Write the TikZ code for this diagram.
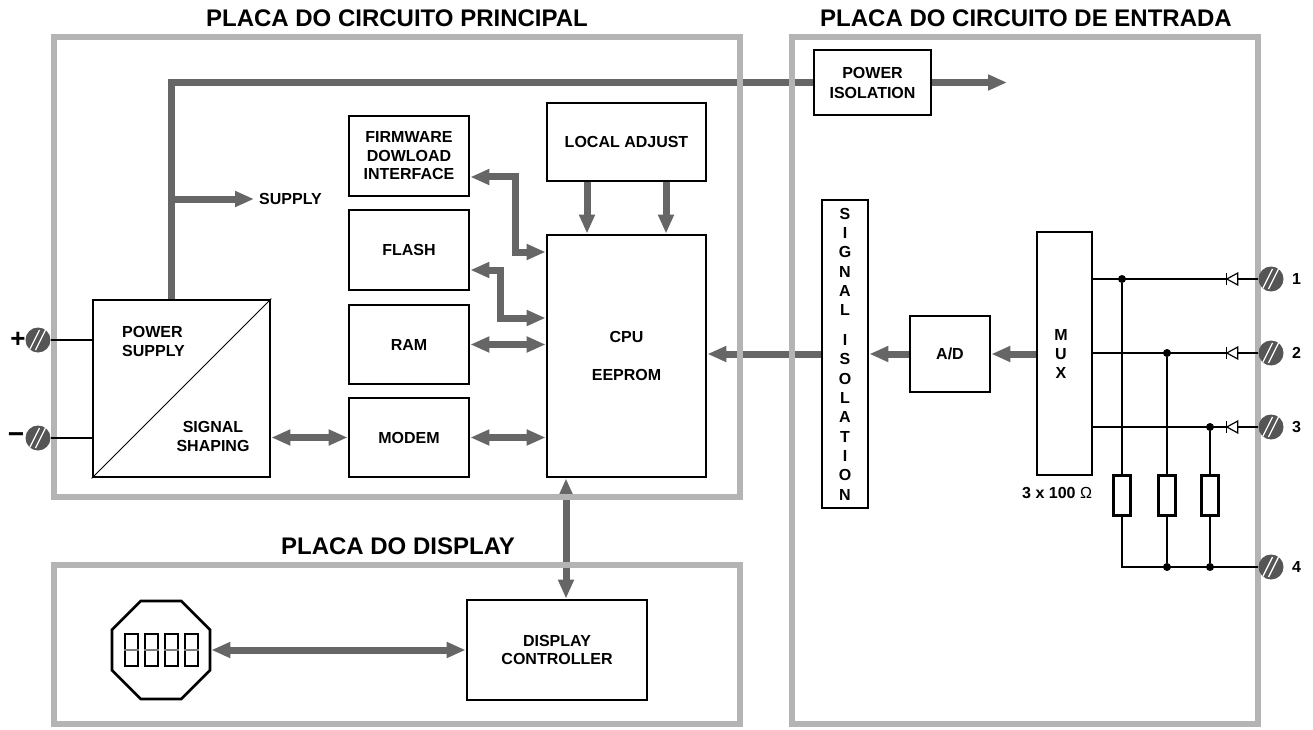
\documentclass[tikz,border=0pt]{standalone}
\usepackage{fontspec}
\setmainfont{Liberation Sans}
\usetikzlibrary{arrows.meta,shapes.geometric,calc}
\definecolor{busgray}{RGB}{102,102,102}
\definecolor{panelgray}{RGB}{180,180,180}
\definecolor{termgray}{RGB}{85,85,85}
\pgfdeclarelayer{bg}
\pgfsetlayers{bg,main}
\begin{document}
\begin{tikzpicture}[x=1pt,y=-1pt,
  every node/.style={font=\fontsize{16}{19}\selectfont\bfseries},
  box/.style={draw=black, line width=2.8pt, fill=white, inner sep=0pt, align=center},
  panel/.style={draw=panelgray, line width=6.5pt, inner sep=0pt},
  bus/.style={draw=busgray, line width=7pt},
  busarrow/.style={bus, -{Triangle[length=19pt,width=15pt]}},
  dbl/.style={bus, {Triangle[length=19pt,width=15pt]}-{Triangle[length=19pt,width=15pt]}},
  wire/.style={draw=black, line width=1.2pt},
  jdot/.style={circle, fill=black, inner sep=0pt, minimum size=8pt},
  res/.style={draw=black, line width=3pt, fill=white, inner sep=0pt, minimum width=17pt, minimum height=40pt},
  title/.style={font=\fontsize{24}{28}\selectfont\bfseries},
  term/.style={circle, fill=termgray, inner sep=0pt, minimum size=25pt,
    path picture={
      \draw[white, line width=1.3pt] ([shift={(-8.5pt,-10pt)}]path picture bounding box.center) -- ++(10pt,20pt);
      \draw[white, line width=1.3pt] ([shift={(-2.5pt,-10pt)}]path picture bounding box.center) -- ++(10pt,20pt);
    }},
  diode/.pic={
    \draw[wire, fill=white] (-5.5,0) -- (5.5,-6) -- (5.5,6) -- cycle;
    \draw[wire] (-5.5,-6) -- (-5.5,6);
  }
]
\useasboundingbox (0,0) rectangle (1313,730);

% ---------- main board boxes
\node[box, minimum width=177pt, minimum height=177pt] (ps) at (181.5,388.5) {};
\draw[line width=0.8pt] (ps.south west) -- (ps.north east);
\node[anchor=west, align=left, inner sep=0pt] (pslbl) at (122,341.5) {POWER\\SUPPLY};
\node[align=center, inner sep=0pt] (sslbl) at (213,436.5) {SIGNAL\\SHAPING};

\node[box, minimum width=120pt, minimum height=80pt, font=\fontsize{16}{18.5}\selectfont\bfseries] (fw) at (409,156) {FIRMWARE\\DOWLOAD\\INTERFACE};
\node[box, minimum width=120pt, minimum height=80pt] (flash) at (409,250) {FLASH};
\node[box, minimum width=120pt, minimum height=79pt] (ram) at (409,344.5) {RAM};
\node[box, minimum width=120pt, minimum height=79pt] (modem) at (409,437.5) {MODEM};
\node[box, minimum width=159pt, minimum height=78pt] (local) at (626.5,142) {LOCAL ADJUST};
\node[box, minimum width=159pt, minimum height=242pt] (cpu) at (626.5,356) {CPU\\[19pt]EEPROM};

% ---------- display board
\node[box, minimum width=180pt, minimum height=100pt, font=\fontsize{16}{18}\selectfont\bfseries] (disp) at (557,650) {DISPLAY\\CONTROLLER};
\node[regular polygon, regular polygon sides=8, draw=black, line width=2.8pt, fill=white, minimum size=106pt, inner sep=0pt] (oct) at (161,650) {};
\foreach \i/\x in {1/131.5,2/151.5,3/171.5,4/191.5}{
  \node[draw=black, line width=1.3pt, minimum width=13pt, minimum height=32pt, inner sep=0pt] (dg\i) at (\x,650) {};
  \draw[gray, line width=1.3pt] (dg\i.west) -- (dg\i.east);
}

% ---------- input board boxes
\node[box, minimum width=117pt, minimum height=65pt, font=\fontsize{16}{20}\selectfont\bfseries] (piso) at (872.5,82.5) {POWER\\ISOLATION};
\node[box, minimum width=46pt, minimum height=308pt, font=\fontsize{16}{19.3}\selectfont\bfseries] (sig) at (845,354) {S\\I\\G\\N\\A\\L\\[10.7pt]I\\S\\O\\L\\A\\T\\I\\O\\N};
\node[box, minimum width=80pt, minimum height=76pt] (ad) at (950,354) {A/D};
\node[box, minimum width=55pt, minimum height=243pt] (mux) at (1064.5,353.5) {};
\node[align=center, inner sep=0pt] (muxlbl) at (1061,354) {M\\U\\X};

% ---------- buses and arrows
\begin{pgfonlayer}{bg}
\draw[bus] ([xshift=-10.5pt]ps.north) |- (piso.west);
\end{pgfonlayer}
\coordinate (pout) at (1007,82.5);
\draw[busarrow] (piso.east) -- (pout);
\coordinate (sb) at (171,199);
\node[anchor=west, inner sep=0pt] (supply) at (259,199) {SUPPLY};
\draw[busarrow] (sb) -- ([xshift=-5pt]supply.west);

\draw[dbl] ([yshift=-21pt]fw.east) -- (515,177) -- (515,252) -- ([yshift=104pt]cpu.west);
\draw[dbl] ([yshift=-20pt]flash.east) -- (500,270) -- (500,318) -- ([yshift=38pt]cpu.west);
\draw[dbl] (ram.east) -- (ram.east -| cpu.west);
\draw[dbl] (modem.east) -- (modem.east -| cpu.west);
\draw[dbl] (modem.west -| ps.east) -- (modem.west);
\draw[busarrow] ([xshift=-39.5pt]local.south) -- ([xshift=-39.5pt]cpu.north);
\draw[busarrow] ([xshift=39.5pt]local.south) -- ([xshift=39.5pt]cpu.north);
\draw[dbl] ([xshift=-60.5pt]cpu.south) -- ([xshift=-60.5pt]cpu.south |- disp.north);
\draw[dbl] (oct.east) -- (oct.east -| disp.west);
\draw[busarrow] (sig.west) -- (sig.west -| cpu.east);
\draw[busarrow] (ad.west) -- (ad.west -| sig.east);
\draw[busarrow] (mux.west |- ad.west) -- (ad.east);

% ---------- panels
\node[panel, minimum width=686pt, minimum height=460pt] (pmain) at (397,267) {};
\node[panel, minimum width=686pt, minimum height=159pt] (pdisp) at (397,644.5) {};
\node[panel, minimum width=466pt, minimum height=687pt] (pin) at (1025,380.5) {};

\node[title] (tmain) at (397,18) {PLACA DO CIRCUITO PRINCIPAL};
\node[title] (tin) at (1026,18) {PLACA DO CIRCUITO DE ENTRADA};
\node[title] (tdisp) at (398,546) {PLACA DO DISPLAY};

% ---------- supply terminals
\node[term] (tp) at (38,340) {};
\node[term] (tm) at (38,438) {};
\node[font=\fontsize{26}{30}\selectfont\bfseries, inner sep=0pt] (plus) at (18,340) {+};
\node[font=\fontsize{28}{30}\selectfont\bfseries, inner sep=0pt] (minus) at (16,438) {−};
\draw[wire] (tp.east) -- (tp.east -| ps.west);
\draw[wire] (tm.east) -- (tm.east -| ps.west);

% ---------- input terminals and circuit
\node[term] (t1) at (1271,279) {};
\node[term] (t2) at (1271,353) {};
\node[term] (t3) at (1271,427) {};
\node[term] (t4) at (1271,567) {};
\node[anchor=west, inner sep=0pt] (l1) at (1292,279) {1};
\node[anchor=west, inner sep=0pt] (l2) at (1292,353) {2};
\node[anchor=west, inner sep=0pt] (l3) at (1292,427) {3};
\node[anchor=west, inner sep=0pt] (l4) at (1292,567) {4};

\node[res] (r1) at (1122,495.5) {};
\node[res] (r2) at (1167,495.5) {};
\node[res] (r3) at (1210,495.5) {};
\node[jdot] (j1) at (1122,279) {};
\node[jdot] (j2) at (1167,353) {};
\node[jdot] (j3) at (1210,427) {};
\node[jdot] (j5) at (1167,567) {};
\node[jdot] (j6) at (1210,567) {};
\coordinate (c4) at (1122,567);

\draw[wire] (mux.east |- t1) -- (t1.west);
\draw[wire] (mux.east |- t2) -- (t2.west);
\draw[wire] (mux.east |- t3) -- (t3.west);
\draw[wire] (j1) -- (r1.north);
\draw[wire] (j2) -- (r2.north);
\draw[wire] (j3) -- (r3.north);
\draw[wire] (r1.south) -- (c4) -- (t4.west);
\draw[wire] (r2.south) -- (j5);
\draw[wire] (r3.south) -- (j6);
\pic at ([xshift=-26pt]t1.west) {diode};
\pic at ([xshift=-26pt]t2.west) {diode};
\pic at ([xshift=-26pt]t3.west) {diode};

\node[anchor=west, inner sep=0pt] (ohm) at (1022,493) {3 x 100 {\mdseries Ω}};
\end{tikzpicture}
\end{document}
